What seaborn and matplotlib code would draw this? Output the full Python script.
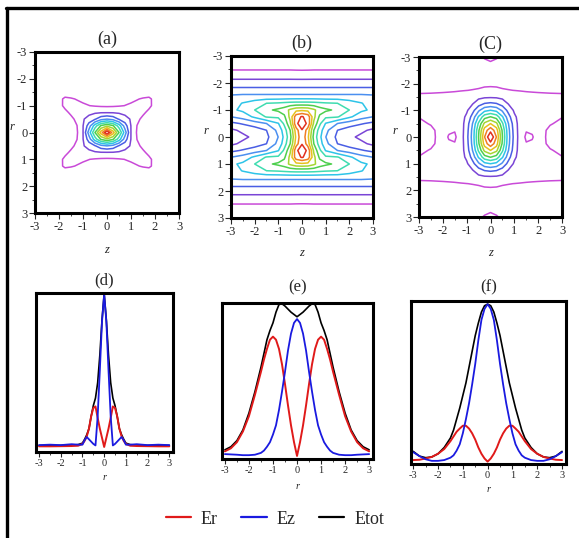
import numpy as np
import pandas as pd
import seaborn as sns
import matplotlib
matplotlib.use('Agg')
import matplotlib.pyplot as plt
from matplotlib.lines import Line2D
from matplotlib.ticker import MultipleLocator

sns.set_theme(style='white')
plt.rcParams['font.family'] = ['Liberation Serif', 'DejaVu Serif']
plt.rcParams['axes.unicode_minus'] = False

# ---- contour data: one quadrant (z>=0, r>=0), rows = r, cols = z, in contour-level units ----
a_z = [0, 0.25, 0.5, 0.75, 1.0, 1.25, 1.5, 1.75, 2.0, 2.5, 3.0]
a_r = [0, 0.25, 0.5, 0.75, 1.0, 1.25, 1.5, 2.0, 2.5, 3.0]
a_field = [
    [12.0, 9.5, 7.02, 4.5, 1.98, 0.9, 0.7, 0.6, 0.5, 0.3, 0.2],
    [7.81, 7.12, 5.52, 3.5, 1.97, 0.99, 0.75, 0.62, 0.5, 0.3, 0.2],
    [3.98, 3.66, 2.9, 2.4, 1.9, 1.15, 0.85, 0.65, 0.5, 0.3, 0.2],
    [1.9, 1.9, 1.85, 1.7, 1.5, 1.3, 1.12, 0.85, 0.6, 0.3, 0.2],
    [0.85, 0.87, 0.93, 1.01, 1.08, 1.15, 1.2, 1.14, 0.8, 0.3, 0.2],
    [0.7, 0.7, 0.73, 0.8, 0.88, 0.97, 1.05, 1.1, 0.85, 0.3, 0.2],
    [0.5, 0.5, 0.52, 0.55, 0.6, 0.64, 0.7, 0.72, 0.58, 0.3, 0.2],
    [0.3, 0.3, 0.3, 0.3, 0.3, 0.3, 0.3, 0.3, 0.3, 0.25, 0.2],
    [0.2, 0.2, 0.2, 0.2, 0.2, 0.2, 0.2, 0.2, 0.2, 0.2, 0.2],
    [0.15, 0.15, 0.15, 0.15, 0.15, 0.15, 0.15, 0.15, 0.15, 0.15, 0.15],
]

b_z = [0, 0.25, 0.5, 0.75, 1.0, 1.5, 2.0, 2.5, 3.0]
b_r = [0, 0.25, 0.5, 0.75, 1.0, 1.25, 1.5, 1.75, 2.0, 2.5, 3.0]
b_field = [
    [10.8, 9.2, 6.67, 5.25, 4.02, 2.75, 2.2, 1.8, 1.5],
    [10.95, 9.5, 7.0, 5.5, 4.3, 3.0, 2.5, 2.2, 1.8],
    [11.5, 10.8, 7.8, 6.2, 4.95, 4.0, 3.5, 3.1, 2.75],
    [11.1, 10.6, 8.3, 6.8, 6.2, 6.1, 5.2, 4.4, 4.0],
    [8.8, 8.7, 8.2, 7.5, 7.2, 6.8, 6.0, 5.2, 4.8],
    [6.35, 6.35, 6.3, 6.2, 6.1, 6.0, 5.5, 5.05, 4.6],
    [4.3, 4.3, 4.3, 4.3, 4.3, 4.3, 4.3, 4.3, 4.2],
    [3.3, 3.3, 3.3, 3.3, 3.3, 3.3, 3.3, 3.3, 3.3],
    [2.4, 2.4, 2.4, 2.4, 2.4, 2.4, 2.4, 2.4, 2.4],
    [0.92, 0.93, 0.95, 0.95, 0.95, 0.95, 0.95, 0.95, 0.95],
    [0.5, 0.5, 0.5, 0.5, 0.5, 0.5, 0.5, 0.5, 0.5],
]

c_z = [0, 0.25, 0.5, 0.75, 1.0, 1.25, 1.5, 1.75, 2.0, 2.5, 3.0]
c_r = [0, 0.25, 0.5, 0.75, 1.0, 1.25, 1.5, 1.75, 2.0, 2.5, 3.0]
c_field = [
    [12.0, 9.98, 7.02, 4.4, 2.65, 1.5, 0.85, 0.95, 1.25, 0.85, 0.6],
    [10.67, 9.48, 6.83, 4.31, 2.57, 1.5, 1.05, 1.08, 1.3, 0.85, 0.65],
    [9.02, 8.25, 6.17, 4.04, 2.44, 1.55, 1.3, 1.3, 1.35, 1.05, 0.85],
    [7.07, 6.61, 5.13, 3.41, 2.19, 1.6, 1.45, 1.4, 1.4, 1.25, 1.02],
    [5.02, 4.72, 3.82, 2.68, 1.85, 1.6, 1.55, 1.5, 1.5, 1.45, 1.35],
    [3.19, 3.05, 2.56, 1.95, 1.7, 1.55, 1.5, 1.45, 1.45, 1.4, 1.35],
    [1.88, 1.85, 1.75, 1.65, 1.55, 1.45, 1.4, 1.35, 1.3, 1.2, 1.15],
    [1.25, 1.2, 1.08, 1.03, 0.99, 0.95, 0.9, 0.87, 0.85, 0.85, 0.86],
    [0.8, 0.8, 0.78, 0.75, 0.72, 0.7, 0.7, 0.7, 0.7, 0.7, 0.7],
    [0.7, 0.68, 0.62, 0.6, 0.6, 0.6, 0.6, 0.6, 0.6, 0.6, 0.6],
    [1.15, 1.05, 0.9, 0.7, 0.6, 0.6, 0.6, 0.6, 0.6, 0.6, 0.6],
]

levels = [1, 2, 3, 4, 5, 6, 7, 8, 9, 10, 11]
level_colors = ['#c94ad8', '#7a45d6', '#4a5ee4', '#4b8ff0', '#2ec4e8', '#3fdcb0',
                '#4ecf4e', '#a6d632', '#e6c21e', '#f07e22', '#e0301e']

# ---- profiles along r (r >= 0 half; curves are symmetric) ----
d_r = [0, 0.1, 0.2, 0.3, 0.4, 0.5, 0.6, 0.7, 0.8, 0.9, 1.0, 1.2, 1.5, 2.0, 2.5, 3.0]
d_er = [0.0, 0.06, 0.12, 0.19, 0.265, 0.255, 0.2, 0.12, 0.07, 0.04, 0.02, 0.008, 0.006, 0.005, 0.004, 0.004]
d_ez = [1.0, 0.82, 0.5, 0.2, 0.01, 0.02, 0.035, 0.05, 0.065, 0.045, 0.015, 0.015, 0.018, 0.012, 0.015, 0.012]
d_et = [1.0, 0.83, 0.6, 0.42, 0.32, 0.27, 0.2, 0.12, 0.08, 0.05, 0.025, 0.015, 0.012, 0.01, 0.01, 0.01]

e_r = [0, 0.125, 0.25, 0.375, 0.5, 0.625, 0.75, 0.875, 1.0, 1.125, 1.25, 1.375, 1.5,
       1.75, 2.0, 2.25, 2.5, 2.75, 3.0]
e_er = [0.0, 0.09, 0.2, 0.33, 0.47, 0.6, 0.7, 0.76, 0.78, 0.76, 0.7, 0.63, 0.55,
        0.4, 0.26, 0.16, 0.09, 0.05, 0.03]
e_ez = [0.895, 0.87, 0.8, 0.69, 0.55, 0.42, 0.3, 0.2, 0.14, 0.09, 0.06, 0.035, 0.02,
        0.008, 0.005, 0.005, 0.008, 0.01, 0.012]
e_et = [0.91, 0.925, 0.94, 0.96, 0.98, 0.995, 0.99, 0.94, 0.87, 0.82, 0.76, 0.67, 0.58,
        0.42, 0.28, 0.17, 0.1, 0.06, 0.04]

f_r = [0, 0.125, 0.25, 0.375, 0.5, 0.625, 0.75, 0.875, 1.0, 1.125, 1.25, 1.375, 1.5,
       1.75, 2.0, 2.25, 2.5, 2.75, 3.0]
f_er = [0.0, 0.02, 0.05, 0.09, 0.14, 0.18, 0.21, 0.228, 0.228, 0.21, 0.19, 0.16, 0.13,
        0.08, 0.05, 0.03, 0.02, 0.012, 0.01]
f_ez = [1.0, 0.97, 0.9, 0.77, 0.62, 0.49, 0.37, 0.27, 0.18, 0.11, 0.07, 0.04, 0.025,
        0.01, 0.005, 0.005, 0.015, 0.035, 0.06]
f_et = [1.0, 0.99, 0.95, 0.88, 0.8, 0.7, 0.6, 0.5, 0.42, 0.34, 0.27, 0.2, 0.15,
        0.09, 0.05, 0.03, 0.025, 0.035, 0.065]


def mirror_axis(q):
    q = np.asarray(q, float)
    return np.concatenate([-q[:0:-1], q])


def mirror_field(v):
    v = np.asarray(v, float)
    v = np.hstack([v[:, :0:-1], v])
    return np.vstack([v[:0:-1], v])


def mirror_curve(v):
    v = np.asarray(v, float)
    return np.concatenate([v[:0:-1], v])


def frame(ax, lw=2.2):
    for s in ax.spines.values():
        s.set_visible(True)
        s.set_color('black')
        s.set_linewidth(lw)


fig = plt.figure(figsize=(5.79, 5.38), dpi=100)

# figure border (top and left only)
fig.add_artist(Line2D([6 / 579, 1], [1 - 8 / 538, 1 - 8 / 538], color='black', lw=2.4))
fig.add_artist(Line2D([7 / 579, 7 / 579], [0, 1 - 8 / 538], color='black', lw=2.4))

contour_panels = [
    ('(a)', a_z, a_r, a_field, [35 / 579, 1 - 213 / 538, 144 / 579, 161 / 538], -0.16, -0.19),
    ('(b)', b_z, b_r, b_field, [231 / 579, 1 - 218 / 538, 142 / 579, 162 / 538], -0.18, -0.18),
    ('(C)', c_z, c_r, c_field, [419 / 579, 1 - 217 / 538, 143 / 579, 160 / 538], -0.17, -0.19),
]

for title, zq, rq, field, rect, ylx, xly in contour_panels:
    ax = fig.add_axes(rect)
    z = mirror_axis(zq)
    r = mirror_axis(rq)
    v = mirror_field(field)
    ax.contour(z, r, v, levels=levels, colors=level_colors, linewidths=1.1)
    ax.set_xlim(-3, 3)
    ax.set_ylim(3, -3)
    ax.xaxis.set_major_locator(MultipleLocator(1))
    ax.yaxis.set_major_locator(MultipleLocator(1))
    ax.xaxis.set_minor_locator(MultipleLocator(0.5))
    ax.yaxis.set_minor_locator(MultipleLocator(0.5))
    ax.tick_params(which='major', direction='out', length=4, width=0.8, labelsize=9,
                   bottom=True, left=True, pad=1.5)
    ax.tick_params(which='minor', direction='out', length=2, width=0.6, bottom=True, left=True)
    ax.set_title(title, fontsize=13, pad=6)
    ax.set_xlabel('z', fontsize=9, style='italic')
    ax.set_ylabel('r', fontsize=9, style='italic', rotation=0)
    ax.xaxis.set_label_coords(0.5, xly)
    ax.yaxis.set_label_coords(ylx, 0.5)
    frame(ax)

profile_panels = [
    ('(d)', d_r, d_er, d_ez, d_et, [36 / 579, 1 - 452 / 538, 137 / 579, 159 / 538],
     (-3.14, 3.17), (-0.033, 1.007), -0.13, 6),
    ('(e)', e_r, e_er, e_ez, e_et, [222 / 579, 1 - 459 / 538, 151 / 579, 156 / 538],
     (-3.12, 3.16), (-0.02, 1.0), -0.15, 8),
    ('(f)', f_r, f_er, f_ez, f_et, [411 / 579, 1 - 464 / 538, 155 / 579, 163 / 538],
     (-3.09, 3.16), (-0.015, 1.02), -0.13, 7),
]

for title, rq, er, ez, et, rect, xlim, ylim, xly, pad in profile_panels:
    ax = fig.add_axes(rect)
    df = pd.DataFrame({'r': mirror_axis(rq), 'Er': mirror_curve(er),
                       'Ez': mirror_curve(ez), 'Etot': mirror_curve(et)})
    sns.lineplot(data=df, x='r', y='Etot', color='black', linewidth=1.2, ax=ax)
    sns.lineplot(data=df, x='r', y='Er', color='#e01a1a', linewidth=1.4, ax=ax)
    sns.lineplot(data=df, x='r', y='Ez', color='#1a1ae0', linewidth=1.3, ax=ax)
    ax.set_xlim(*xlim)
    ax.set_ylim(*ylim)
    ax.set_yticks([])
    ax.xaxis.set_major_locator(MultipleLocator(1))
    ax.xaxis.set_minor_locator(MultipleLocator(0.5))
    ax.tick_params(which='major', direction='out', length=3.5, width=0.8, labelsize=7.5,
                   bottom=True, pad=1.5)
    ax.tick_params(which='minor', direction='out', length=2, width=0.6, bottom=True)
    ax.set_title(title, fontsize=12, pad=pad)
    ax.set_xlabel('r', fontsize=7.5, style='italic')
    ax.set_ylabel('')
    ax.xaxis.set_label_coords(0.5, xly)
    frame(ax)

handles = [Line2D([], [], color='#e01a1a', lw=1.6),
           Line2D([], [], color='#1a1ae0', lw=1.6),
           Line2D([], [], color='black', lw=1.6)]
fig.legend(handles, ['Er', 'Ez', 'Etot'], loc='center', ncol=3, frameon=False,
           bbox_to_anchor=(275 / 579, 1 - 519 / 538), fontsize=13,
           handlelength=1.4, handletextpad=0.55, columnspacing=1.3)

fig.savefig('out.png', dpi=100, facecolor='white')
